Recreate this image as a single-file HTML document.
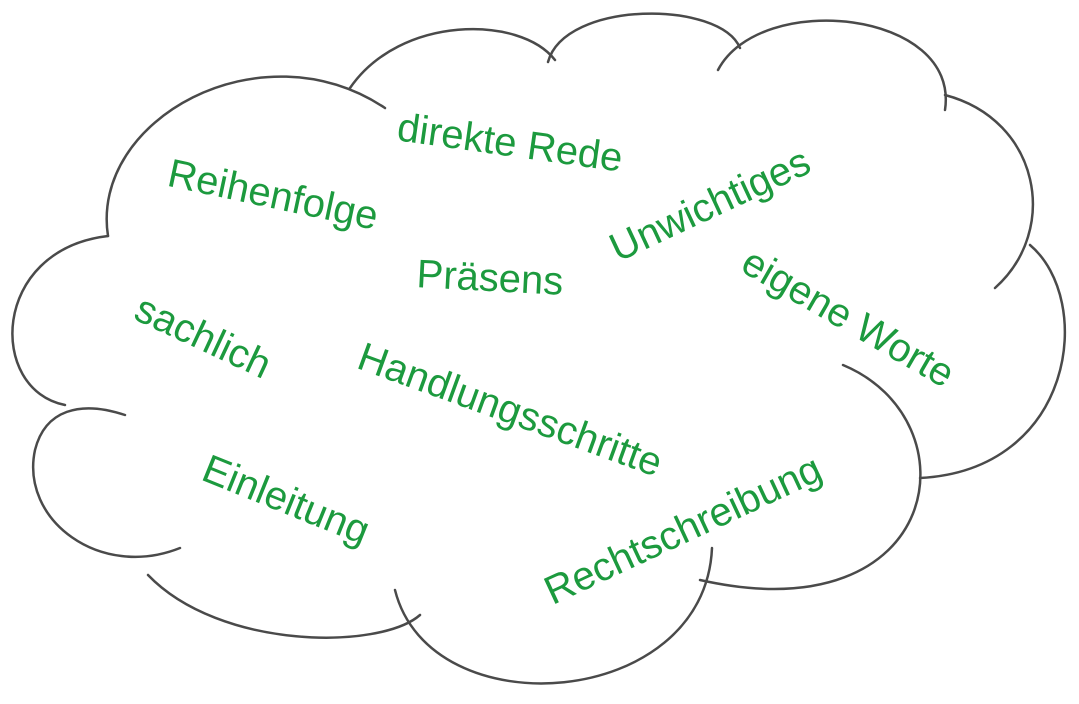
<!DOCTYPE html>
<html><head><meta charset="utf-8"><style>
html,body{margin:0;padding:0;background:#fff;}
svg{display:block;}
text{font-family:"Liberation Sans","DejaVu Sans",sans-serif;fill:#1c9a3e;text-anchor:middle;dominant-baseline:central;font-size:40px;}
</style></head><body>
<svg width="1079" height="704" viewBox="0 0 1079 704" xmlns="http://www.w3.org/2000/svg">
<g fill="none" stroke="#4a4a4a" stroke-width="2.5" stroke-linecap="round">
<path d="M108,236 C90,120 260,25 385,108"/>
<path d="M350,88 C400,15 520,15 555,60"/>
<path d="M548,62 C565,0 720,0 740,48"/>
<path d="M718,70 C760,-10 960,10 945,110"/>
<path d="M945,95 C1040,120 1060,230 995,288"/>
<path d="M1030,245 C1095,300 1075,470 920,478"/>
<path d="M843,365 C975,420 945,635 700,580"/>
<path d="M712,548 C705,710 430,730 395,590"/>
<path d="M148,575 C220,650 380,650 420,615"/>
<path d="M180,548 C100,580 20,520 35,450 C45,410 80,400 125,415"/>
<path d="M65,405 C-12,390 -10,250 108,236"/>
</g>
<text transform="translate(510,143) rotate(8)">direkte Rede</text>
<text transform="translate(273,195) rotate(12)">Reihenfolge</text>
<text transform="translate(710,205) rotate(-25)">Unwichtiges</text>
<text transform="translate(490,278) rotate(3)">Präsens</text>
<text transform="translate(848,318) rotate(30)">eigene Worte</text>
<text transform="translate(203,337) rotate(25)">sachlich</text>
<text transform="translate(510,410) rotate(20)">Handlungsschritte</text>
<text transform="translate(286,500) rotate(22)">Einleitung</text>
<text transform="translate(683,530) rotate(-25)">Rechtschreibung</text>
</svg>
</body></html>
